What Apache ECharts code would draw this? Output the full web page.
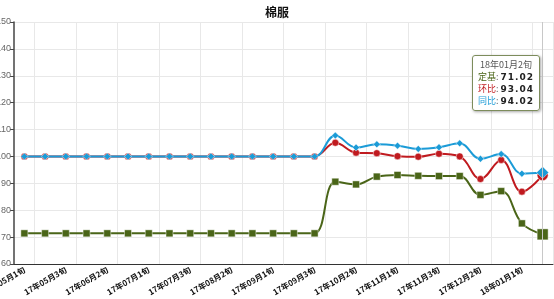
<!DOCTYPE html>
<html><head><meta charset="utf-8">
<script src="https://cdn.jsdelivr.net/npm/echarts@6/dist/echarts.min.js"></script>
<style>html,body{margin:0;padding:0;background:#fff}#c{width:554px;height:299px}</style>
</head><body><div id="c"></div>
<script>
const title = '棉服';
const categories = ['17年05月1旬','17年05月2旬','17年05月3旬','17年06月1旬','17年06月2旬','17年06月3旬',
 '17年07月1旬','17年07月2旬','17年07月3旬','17年08月1旬','17年08月2旬','17年08月3旬',
 '17年09月1旬','17年09月2旬','17年09月3旬','17年10月1旬','17年10月2旬','17年10月3旬',
 '17年11月1旬','17年11月2旬','17年11月3旬','17年12月1旬','17年12月2旬','17年12月3旬',
 '18年01月1旬','18年01月2旬'];
const seriesNames = ['定基','环比','同比'];
const dingji = [71.4,71.4,71.4,71.4,71.4,71.4,71.4,71.4,71.4,71.4,71.4,71.4,71.4,71.4,71.4,
 90.6,89.6,92.5,93.1,92.8,92.7,92.7,85.7,87.1,75.1,71.02];
const huanbi = [100,100,100,100,100,100,100,100,100,100,100,100,100,100,100,
 105.1,101.4,101.2,100.1,99.9,101.0,100.0,91.6,98.7,86.9,93.04];
const tongbi = [100,100,100,100,100,100,100,100,100,100,100,100,100,100,100,
 107.8,103.3,104.5,104.0,102.8,103.4,104.9,99.1,100.9,93.6,94.02];
const yMin = 60, yMax = 150, yStep = 10;

const colors = ['#4a6518','#c01a1f','#1b9bd7'];
const symbols = ['rect','circle','diamond'];
const sizes = [7,7,7];
const bigSizes = [10,10,11];
const allData = [dingji, huanbi, tongbi];
const last = categories.length - 1;

const chart = echarts.init(document.getElementById('c'), null, {renderer:'canvas'});
chart.setOption({
  animation:false,
  title:{text:title,left:'center',top:1,textStyle:{fontSize:12,fontWeight:'bold',color:'#111',fontFamily:'"Noto Sans CJK SC"'}},
  grid:{left:14,right:1,top:22,bottom:35,containLabel:false,outerBoundsMode:'none'},
  tooltip:{
    trigger:'axis', triggerOn:'none', alwaysShowContent:true,
    position:[472,55],
    axisPointer:{type:'line',lineStyle:{color:'#c8c8c8',width:1,type:'solid'}},
    backgroundColor:'rgba(255,255,255,0.92)', borderColor:'#7d8c5c', borderWidth:1, borderRadius:3,
    padding:[3,5,3,5],
    extraCssText:'box-shadow:1px 1px 3px rgba(0,0,0,0.35);',
    formatter:function(ps){
      let s = '<div style="font-size:9px;line-height:12px;color:#555;text-align:center;font-family:\'Noto Sans CJK SC\'">'+ps[0].axisValue+'</div>';
      [0,1,2].forEach(function(i){
        const p = ps.find(q=>q.seriesIndex===i);
        if(!p) return;
        s += '<div style="font-size:9px;line-height:12px;font-family:\'Noto Sans CJK SC\'"><span style="color:'+colors[i]+'">'+p.seriesName+'</span>: <b style="color:#222;letter-spacing:1px;font-family:\'DejaVu Sans\'">'+p.value.toFixed(2)+'</b></div>';
      });
      return s;
    }
  },
  xAxis:{
    type:'category', data:categories, boundaryGap:true,
    axisLine:{lineStyle:{color:'#333',width:1}},
    axisTick:{interval:function(i){return i%2===1;},length:4,lineStyle:{color:'#444'}},
    axisLabel:{interval:1,rotate:30,margin:5,fontSize:8,fontWeight:'bold',color:'#111',fontFamily:'"Noto Sans CJK SC"'},
    splitLine:{show:true,interval:function(i){return i%2===1;},lineStyle:{color:'#e8e8e8',width:1}}
  },
  yAxis:{
    type:'value', min:yMin, max:yMax, interval:yStep,
    axisLine:{show:true,lineStyle:{color:'#444',width:1.5}},
    axisTick:{show:true,length:4,lineStyle:{color:'#444'}},
    axisLabel:{fontSize:9,color:'#666',margin:3,fontFamily:'"Liberation Sans"'},
    splitLine:{lineStyle:{color:'#e8e8e8',width:1}}
  },
  series: allData.map(function(arr,i){
    return {
      name:seriesNames[i], type:'line', smooth:0.4,
      data:arr.map(function(v,j){ return j===last ? {value:v,symbolSize:bigSizes[i]} : v; }),
      symbol:symbols[i], symbolSize:sizes[i],
      lineStyle:{color:colors[i],width:2},
      itemStyle:{color:colors[i],borderColor:'rgba(255,255,255,0.45)',borderWidth:1},
      emphasis:{disabled:true},
      z:2+i
    };
  })
});
chart.dispatchAction({type:'showTip',seriesIndex:0,dataIndex:last});
</script>
</body></html>
